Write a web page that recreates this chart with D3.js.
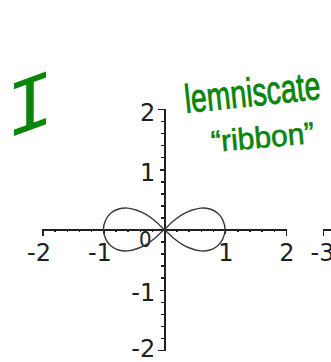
<!DOCTYPE html>
<html>
<head>
<meta charset="utf-8">
<script src="https://cdn.jsdelivr.net/npm/d3@7"></script>
<style>
  html, body { margin: 0; padding: 0; background: #fff; }
  svg { display: block; }
</style>
</head>
<body>
<svg id="chart" width="331" height="362"></svg>
<script>
// Lemniscate traced as one closed figure-eight:
// origin -> upper right -> (1,0) -> lower right -> origin -> upper left -> (-1,0) -> lower left
const curveX = [0, 0.15, 0.3, 0.45, 0.6, 0.75, 0.88, 0.96, 1.0, 0.96, 0.88, 0.75, 0.6, 0.45, 0.3, 0.15,
                0, -0.15, -0.3, -0.45, -0.6, -0.75, -0.88, -0.96, -1.0, -0.96, -0.88, -0.75, -0.6, -0.45, -0.3, -0.15];
const curveY = [0, 0.14, 0.25, 0.32, 0.355, 0.34, 0.27, 0.16, 0, -0.16, -0.27, -0.34, -0.355, -0.32, -0.25, -0.14,
                0, 0.14, 0.25, 0.32, 0.355, 0.34, 0.27, 0.16, 0, -0.16, -0.27, -0.34, -0.355, -0.32, -0.25, -0.14];

// Axis ticks
const xMajor = [-2, -1, 1, 2];
const xMajorLabels = ["-2", "-1", "1", "2"];
const yMajor = [-2, -1, 1, 2];
const yMajorLabels = ["-2", "-1", "1", "2"];
const minorTicks = [-1.8, -1.6, -1.4, -1.2, -1, -0.8, -0.6, -0.4, -0.2, 0.2, 0.4, 0.6, 0.8, 1, 1.2, 1.4, 1.6, 1.8];
const originLabel = "0";
// neighbouring axis that starts at -3
const nextAxisTicks = [-3];
const nextAxisLabels = ["-3"];

// Hand-written notes
const noteNumeral = "I";
const noteTitle = "lemniscate";
const noteSubtitle = "\u201Cribbon\u201D";

const svg = d3.select("#chart");
const ink = "#202020";
const green = "#0a840a";

const x = d3.scaleLinear().domain([-2, 2]).range([42.5, 286]);
const y = d3.scaleLinear().domain([-2, 2]).range([350, 109]);
const x0 = x(0), y0 = y(0);

const labelFont = "'DejaVu Sans', sans-serif";

// --- horizontal axis ---
const gx = svg.append("g").attr("transform", `translate(0,${y0})`);
gx.call(d3.axisBottom(x).tickValues(minorTicks).tickSize(2.5).tickSizeOuter(6).tickFormat(""));
gx.select(".domain").attr("stroke", ink).attr("stroke-width", 1.8).attr("shape-rendering", "crispEdges");
gx.selectAll(".tick line").attr("stroke", ink).attr("stroke-width", 1.5).attr("shape-rendering", "crispEdges");

const gxl = svg.append("g").attr("transform", `translate(0,${y0})`);
gxl.call(d3.axisBottom(x).tickValues(xMajor).tickSize(4)
  .tickFormat((d, i) => xMajorLabels[i]));
gxl.select(".domain").remove();
gxl.selectAll(".tick line").attr("stroke", ink).attr("stroke-width", 1.5).attr("shape-rendering", "crispEdges");
gxl.selectAll(".tick text")
  .attr("font-family", labelFont).attr("font-size", 24).attr("fill", ink)
  .attr("text-anchor", "end").attr("x", 8).attr("y", 31).attr("dy", 0);

// --- vertical axis ---
const gy = svg.append("g").attr("transform", `translate(${x0},0)`);
gy.call(d3.axisLeft(y).tickValues(minorTicks).tickSize(3.5).tickSizeOuter(6).tickFormat(""));
gy.select(".domain").attr("stroke", ink).attr("stroke-width", 1.8).attr("shape-rendering", "crispEdges");
gy.selectAll(".tick line").attr("stroke", ink).attr("stroke-width", 1.5).attr("shape-rendering", "crispEdges");

const gyl = svg.append("g").attr("transform", `translate(${x0},0)`);
gyl.call(d3.axisLeft(y).tickValues(yMajor).tickSize(4)
  .tickFormat((d, i) => yMajorLabels[i]));
gyl.select(".domain").remove();
gyl.selectAll(".tick line").attr("stroke", ink).attr("stroke-width", 1.5).attr("shape-rendering", "crispEdges");
gyl.selectAll(".tick text")
  .attr("font-family", labelFont).attr("font-size", 24).attr("fill", ink)
  .attr("text-anchor", "end").attr("x", -9).attr("y", d => d === -2 ? 6 : 11).attr("dy", 0);

// origin label
svg.append("text")
  .attr("x", x0 - 19).attr("y", y0 + 17)
  .attr("text-anchor", "middle")
  .attr("font-family", "'DejaVu Sans Condensed', 'DejaVu Sans', sans-serif")
  .attr("font-size", 22).attr("fill", ink)
  .text(originLabel);

// --- start of the neighbouring axis at the right edge ---
const xNext = d3.scaleLinear().domain([-3, -2]).range([323, 384]);
const gn = svg.append("g").attr("transform", `translate(0,${y0})`);
gn.call(d3.axisBottom(xNext).tickValues(nextAxisTicks).tickSize(6).tickSizeOuter(6)
  .tickFormat((d, i) => nextAxisLabels[i]));
gn.select(".domain").attr("stroke", ink).attr("stroke-width", 1.8).attr("shape-rendering", "crispEdges");
gn.selectAll(".tick line").attr("stroke", ink).attr("stroke-width", 1.5).attr("shape-rendering", "crispEdges");
gn.selectAll(".tick text")
  .attr("font-family", labelFont).attr("font-size", 24).attr("fill", ink)
  .attr("text-anchor", "end").attr("x", 11).attr("y", 31).attr("dy", 0);

// --- the curve ---
const pts = curveX.map((d, i) => [d, curveY[i]]);
const line = d3.line().x(d => x(d[0])).y(d => y(d[1])).curve(d3.curveCatmullRomClosed.alpha(0.5));
svg.append("path")
  .attr("d", line(pts))
  .attr("fill", "none")
  .attr("stroke", "#3a3a3a")
  .attr("stroke-width", 1.4);

// --- hand-written notes in green ---
svg.append("g")
  .attr("transform", "translate(30,106) skewY(-20)")
  .append("text")
  .attr("x", 0).attr("y", 24)
  .attr("text-anchor", "middle")
  .attr("font-family", "'Liberation Mono', monospace")
  .attr("font-size", 80)
  .attr("fill", green)
  .text(noteNumeral);

// tall, narrow hand lettering: a smaller font stretched vertically
svg.append("g")
  .attr("transform", "translate(186,113) rotate(-6) scale(1,1.4)")
  .append("text")
  .attr("font-family", "'Liberation Sans', sans-serif")
  .attr("font-size", 28.5)
  .attr("fill", green).attr("stroke", green).attr("stroke-width", 0.6)
  .text(noteTitle);

svg.append("text")
  .attr("transform", "translate(212,152) rotate(-5)")
  .attr("font-family", "'Liberation Sans', sans-serif")
  .attr("font-size", 30)
  .attr("fill", green).attr("stroke", green).attr("stroke-width", 0.6)
  .text(noteSubtitle);
</script>
</body>
</html>
